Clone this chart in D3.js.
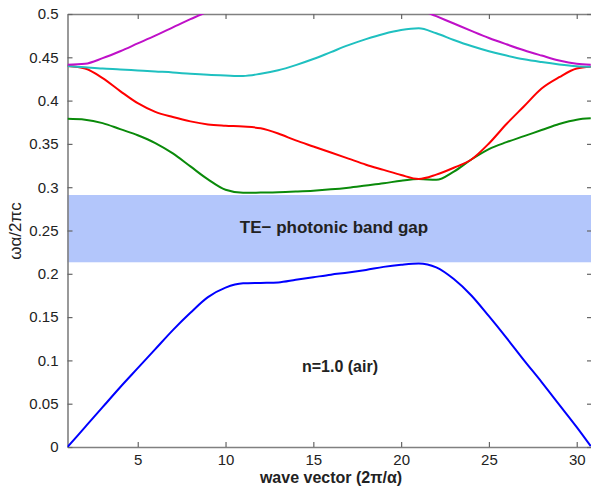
<!DOCTYPE html>
<html>
<head>
<meta charset="utf-8">
<script src="https://cdn.jsdelivr.net/npm/d3@7"></script>
<style>
  html, body { margin: 0; padding: 0; background: #fff; }
  svg { display: block; }
</style>
</head>
<body>
<div id="chart"></div>
<script>
// Wave vector samples (2π/α)
const waveVector = [1, 2, 3, 4, 5, 6, 7, 8, 9, 10, 11, 12, 13, 14, 15, 16, 17, 18, 19, 20,
                    21, 22, 23, 24, 25, 26, 27, 28, 29, 30, 30.8];

// Normalised frequency ωα/2πc of each band
const band1 = [0, 0.023, 0.046, 0.069, 0.091, 0.113, 0.135, 0.155, 0.173, 0.184, 0.189,
               0.1895, 0.190, 0.193, 0.196, 0.199, 0.2015, 0.2045, 0.208, 0.2105,
               0.212, 0.2075, 0.194, 0.175, 0.151, 0.126, 0.100, 0.075, 0.049, 0.023, 0.001];
const band2 = [0.379, 0.378, 0.374, 0.367, 0.360, 0.351, 0.339, 0.324, 0.309, 0.297, 0.2935,
               0.2938, 0.2942, 0.295, 0.296, 0.2975, 0.2995, 0.302, 0.3045, 0.3075,
               0.3095, 0.3085, 0.318, 0.332, 0.344, 0.352, 0.359, 0.366, 0.373, 0.378, 0.3795];
const band3 = [0.440, 0.437, 0.426, 0.411, 0.397, 0.387, 0.381, 0.376, 0.3725, 0.371, 0.370,
               0.368, 0.362, 0.354, 0.347, 0.340, 0.333, 0.326, 0.320, 0.314,
               0.3095, 0.3145, 0.3225, 0.332, 0.3505, 0.373, 0.3935, 0.414, 0.427, 0.437, 0.439];
const band4 = [0.440, 0.4385, 0.437, 0.436, 0.4348, 0.4336, 0.4325, 0.431, 0.4298, 0.429, 0.4284,
               0.431, 0.435, 0.441, 0.448, 0.456, 0.464, 0.471, 0.477, 0.4815,
               0.4835, 0.4777, 0.470, 0.463, 0.457, 0.452, 0.4477, 0.4445, 0.4418, 0.4398, 0.439];
const band5 = [0.4415, 0.4425, 0.449, 0.457, 0.466, 0.475, 0.4845, 0.494, 0.503, 0.512, 0.520,
               0.525, 0.530, 0.534, 0.536, 0.536, 0.534, 0.530, 0.525, 0.516,
               0.506, 0.4975, 0.489, 0.4805, 0.4723, 0.465, 0.4581, 0.452, 0.4462, 0.4425, 0.4415];

// Photonic band gap edges
const gapEdges = [0.2133, 0.291];

// Axis ticks
const xTicks = [5, 10, 15, 20, 25, 30];
const xTickLabels = ["5", "10", "15", "20", "25", "30"];
const yTicks = [0, 0.05, 0.1, 0.15, 0.2, 0.25, 0.3, 0.35, 0.4, 0.45, 0.5];
const yTickLabels = ["0", "0.05", "0.1", "0.15", "0.2", "0.25", "0.3", "0.35", "0.4", "0.45", "0.5"];

const W = 591, H = 487;
const plot = { left: 67.5, right: 592, top: 14, bottom: 447 };

const x = d3.scaleLinear().domain([1, 30.87]).range([plot.left, plot.right]);
const y = d3.scaleLinear().domain([0, 0.5]).range([plot.bottom, plot.top]);

const svg = d3.select("#chart").append("svg")
  .attr("width", W).attr("height", H)
  .style("font-family", "'Liberation Sans', Arial, sans-serif");

svg.append("defs").append("clipPath").attr("id", "plot-clip")
  .append("rect")
  .attr("x", plot.left).attr("y", plot.top)
  .attr("width", plot.right - plot.left).attr("height", plot.bottom - plot.top);

// Band gap shading
svg.append("rect")
  .attr("x", plot.left)
  .attr("y", y(gapEdges[1]))
  .attr("width", plot.right - plot.left)
  .attr("height", y(gapEdges[0]) - y(gapEdges[1]))
  .attr("fill", "#b3c6fb");

// Axes (box with inward ticks)
const axisColor = "#808080";
const tickLen = 5;

const gx = svg.append("g").attr("transform", `translate(0,${plot.bottom})`)
  .call(d3.axisBottom(x).tickValues(xTicks).tickSizeInner(-tickLen).tickSizeOuter(0)
        .tickFormat((d, i) => xTickLabels[i]).tickPadding(7));
const gxTop = svg.append("g").attr("transform", `translate(0,${plot.top})`)
  .call(d3.axisTop(x).tickValues(xTicks).tickSizeInner(-tickLen).tickSizeOuter(0).tickFormat(""));
const gy = svg.append("g").attr("transform", `translate(${plot.left},0)`)
  .call(d3.axisLeft(y).tickValues(yTicks).tickSizeInner(-tickLen).tickSizeOuter(0)
        .tickFormat((d, i) => yTickLabels[i]).tickPadding(9));
const gyRight = svg.append("g").attr("transform", `translate(${plot.right},0)`)
  .call(d3.axisRight(y).tickValues(yTicks).tickSizeInner(-tickLen).tickSizeOuter(0).tickFormat(""));

[gx, gxTop, gy, gyRight].forEach(g => {
  g.select(".domain").attr("stroke", axisColor).attr("stroke-width", 1.6);
  g.selectAll(".tick line").attr("stroke", "#666").attr("stroke-width", 1.2);
  g.selectAll(".tick text").attr("fill", "#222").style("font-size", "15px");
});

// Band curves
const bands = [
  { values: band1, color: "#0000ff" },
  { values: band2, color: "#0a8a0a" },
  { values: band3, color: "#ff0000" },
  { values: band4, color: "#1fc0c0" },
  { values: band5, color: "#bf10c8" }
];

const line = d3.line()
  .x((d, i) => x(waveVector[i]))
  .y(d => y(d))
  .curve(d3.curveMonotoneX);

const lines = svg.append("g").attr("clip-path", "url(#plot-clip)");
bands.forEach(b => {
  lines.append("path")
    .datum(b.values)
    .attr("d", line)
    .attr("fill", "none")
    .attr("stroke", b.color)
    .attr("stroke-width", 2)
    .attr("stroke-linejoin", "round");
});

// Annotations
svg.append("text")
  .attr("x", 334).attr("y", 233)
  .attr("text-anchor", "middle")
  .attr("fill", "#222")
  .style("font-size", "17px").style("font-weight", "bold")
  .text("TE\u2212 photonic band gap");

svg.append("text")
  .attr("x", 340).attr("y", 372)
  .attr("text-anchor", "middle")
  .attr("fill", "#222")
  .style("font-size", "16px").style("font-weight", "bold")
  .text("n=1.0 (air)");

// Axis titles
svg.append("text")
  .attr("x", 331).attr("y", 483)
  .attr("text-anchor", "middle")
  .attr("fill", "#222")
  .style("font-size", "16px").style("font-weight", "bold")
  .text("wave vector (2\u03c0/\u03b1)");

svg.append("text")
  .attr("transform", "translate(21,231) rotate(-90)")
  .attr("text-anchor", "middle")
  .attr("fill", "#222")
  .style("font-size", "17px")
  .text("\u03c9\u03b1/2\u03c0c");
</script>
</body>
</html>
